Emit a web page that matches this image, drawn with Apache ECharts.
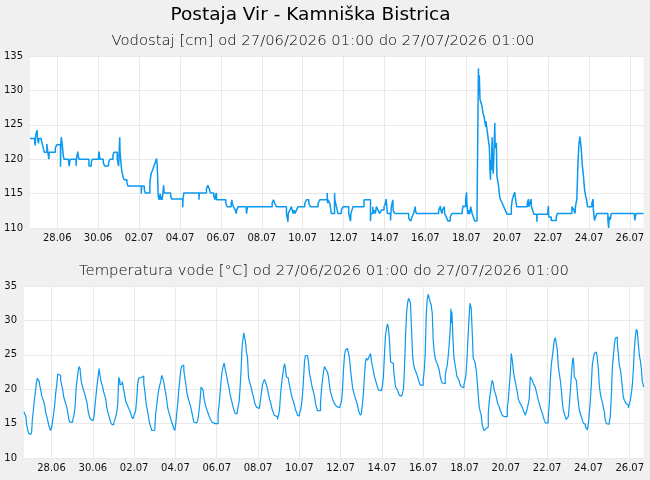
<!DOCTYPE html>
<html>
<head>
<meta charset="utf-8">
<script src="https://cdn.jsdelivr.net/npm/echarts@6/dist/echarts.min.js"></script>
<style>
html,body{margin:0;padding:0;background:#f0f0f0;}
#chart{width:650px;height:480px;}
</style>
</head>
<body>
<div id="chart"></div>
<script>
// x values: hours since 27/06/2026 01:00
const titleText = 'Postaja Vir - Kamniška Bistrica';
const levelTitle = 'Vodostaj [cm] od 27/06/2026 01:00 do 27/07/2026 01:00';
const tempTitle = 'Temperatura vode [°C] od 27/06/2026 01:00 do 27/07/2026 01:00';

const tickHours = [32,80,128,176,224,272,320,368,416,464,512,560,608,656,704];
const tickLabels = ['28.06','30.06','02.07','04.07','06.07','08.07','10.07','12.07','14.07','16.07','18.07','20.07','22.07','24.07','26.07'];

// Vodostaj [cm]
const levelPoints = [
[0,123],[5.5,122.5],[6.2,122],[6.6,123.5],[8.4,124.2],[8.8,123],[10,122.3],[10.4,123],[13.3,122.7],[14.5,122.2],
[15.6,121.6],[16.8,121],[19.8,122.2],[20.3,121.6],[22.1,120],[22.5,121],[29.7,121.6],[31.3,122.1],[35.8,118.9],[36.2,122.1],
[36.7,123.2],[37.9,122.1],[39.1,120.5],[39.9,120],[45.3,119.5],[46.1,119],[46.5,119.5],[47.3,120],[54.1,119],[54.5,120],
[56.1,121.1],[56.5,120.5],[57.5,120],[69.2,119],[71.9,119.5],[73.1,120],[80.5,120.5],[81.1,121.1],[81.5,120.5],[82.1,120],
[86,119.5],[87.6,119],[92.2,119.5],[93.8,120],[97.3,120.5],[98.5,121],[102.4,120],[104,119],[105.3,123.2],[105.7,121],
[107.5,118.5],[109,117.5],[110.6,117],[113.7,116.6],[114.9,116.1],[130.6,115],[131,116.1],[134.1,115.6],[135.3,115.1],[140.7,116.7],
[142.3,118],[143.8,118.4],[145.4,119],[147,119.5],[148.5,120.1],[149.3,119.2],[150.5,114.6],[151.5,114.1],[152.8,115],[153.5,114.1],
[154,114.6],[155,114.1],[155.6,114.6],[156.8,116.2],[157.3,115.1],[165,114.6],[166.5,114.2],[179.2,113],[179.6,114.2],[180.6,115.1],
[198.3,114.1],[198.7,115.1],[207.1,115.7],[208.7,116.2],[210.3,115.7],[211.8,115.1],[215.7,114.6],[217.1,114.1],[217.5,114.6],[218.7,115.1],
[219.1,114.1],[229.8,113.6],[231.4,113.1],[236.1,113.6],[237,114.1],[237.4,113.6],[238.8,113.1],[240.8,112.6],[242.1,112.1],[242.5,112.6],
[244.3,113.1],[253.8,112.6],[254.2,112.1],[254.6,112.6],[255.6,113.1],[284.2,113.6],[285.7,114.1],[287.3,113.6],[289.2,113.1],[301,112.1],
[302.7,110.9],[303.1,112.1],[304.9,112.6],[306.8,113.1],[308.8,112.1],[309.6,112.6],[311.1,112.1],[312.7,112.6],[314.6,113.1],[322.5,113.6],
[324.4,114.1],[327.2,113.6],[329.1,113.1],[338.1,113.6],[340.1,114.1],[348.8,115.1],[349.2,113.6],[349.8,114.1],[351.8,113.6],[353.7,112.1],
[357.4,115.1],[357.8,114.1],[359.6,113.1],[361.5,112.1],[365.4,112.6],[367.4,113.1],[374,112.1],[376.2,111],[376.6,112.1],[377.9,112.6],
[379.1,113.1],[392,114.1],[399.6,111],[400,112.1],[402.4,113.1],[402.8,112.1],[403.7,112.6],[405.3,112.1],[406.5,113.1],[408.4,112.6],
[410.4,112.1],[412.3,112.6],[415.5,113.1],[417,113.6],[418,114.2],[418.4,113.6],[419.4,112.1],[423.1,111.1],[423.5,112.1],[424.1,113.1],
[425.8,114.1],[426.2,112.6],[428,112.1],[444.4,111.4],[446.7,111],[448.3,111.6],[450.2,112.1],[452,113.1],[452.4,112.6],[453.4,112.1],
[479.6,112.6],[481.7,113.2],[482.1,112.6],[483.5,112.1],[484,112.6],[486.2,113.1],[486.6,112.1],[488.6,111.6],[490.5,111],[493.2,111.6],
[495.2,112.1],[507.3,112.6],[508.3,113.2],[508.7,113.1],[511.3,114.1],[512.3,115.2],[512.7,113.6],[514,112],[515.2,112.6],[516,112],
[517.2,113.1],[519.1,112],[520.3,111.6],[521.9,111],[524.6,111.6],[525.4,122.6],[526.3,133.2],[526.7,129.6],[527.3,132.2],[528.1,128.7],
[529.3,128.2],[530.5,127.7],[531.6,126.7],[532.8,126.2],[533.6,125.7],[534.8,124.7],[535.3,125.5],[535.7,124.9],[536.7,124],[537.9,122.8],
[539.1,121.8],[539.8,118.7],[540.4,117],[540.8,119.9],[541.4,118.4],[542.4,123.2],[542.8,119.4],[543.7,117.9],[544.5,120.9],[545.5,125.3],
[545.9,121.6],[547.3,122.4],[548,117.5],[550,116],[551.2,114.6],[552.3,114.1],[554.3,113.6],[555.9,113.1],[557.8,112.6],[559.8,112],
[564.9,113.1],[566,114.1],[567.2,114.6],[568.8,115.2],[570,114.1],[571.1,113.1],[583.6,113.6],[585,114.2],[585.4,113.1],[586.7,113.6],
[588.1,114.2],[588.5,113.1],[589.9,112.6],[591.4,112],[594.8,110.9],[595.2,112],[607.8,112.6],[608.4,113.2],[608.8,111.6],[611.7,111.1],
[617.6,111.6],[618.8,112.1],[636,113.1],[638.3,112.6],[639.7,112.1],[640.1,113.1],[641.8,114.2],[643,119.2],[644.2,122.1],[645.3,123.3],
[646.9,121.6],[648.1,119.2],[649.6,117.5],[650.8,115.6],[652,114.7],[653.2,114.1],[654.3,113.1],[659.4,113.6],[660.8,114.2],[661.2,112.6],
[662.5,111.1],[663.7,111.6],[665.3,112.1],[678.2,111.2],[679.1,110],[679.5,111.2],[680.1,111.6],[681.1,111.2],[681.5,111.6],[682.1,112.1],
[709.4,111.6],[710,111.1],[710.4,111.6],[711.4,112.1],[720,112.1]
];

// Temperatura vode [°C]
const tempPoints = [
[0,16.7],[1.2,16.5],[2.3,16.0],[3.1,14.8],[4.3,14.1],[5.4,13.6],[6.6,13.4],[7.8,13.4],[8.9,13.8],[9.7,15.6],
[10.9,16.9],[12.0,18.4],[13.2,19.6],[14.3,20.8],[15.5,21.6],[16.7,21.8],[17.8,21.1],[18.2,20.6],[19.4,19.9],[20.5,19.1],
[21.7,18.6],[22.9,18.2],[24.0,17.7],[25.2,16.6],[26.4,16.1],[27.5,15.5],[28.7,14.8],[29.9,14.3],[31.0,14.0],[32.2,14.5],
[33.3,15.4],[34.5,16.5],[35.7,17.7],[36.8,19.4],[38.0,20.6],[39.2,22.2],[40.3,22.3],[41.5,22.0],[42.6,21.3],[43.8,20.6],
[45.0,19.9],[46.1,18.9],[47.3,18.4],[48.5,17.9],[49.6,17.4],[50.8,16.7],[52.0,15.7],[53.1,15.2],[54.3,15.0],[55.4,15.2],
[56.6,15.5],[58.1,16.2],[59.3,17.4],[60.5,20.0],[61.6,21.3],[62.8,22.5],[64.0,23.3],[65.1,23.0],[66.3,21.3],[67.5,20.6],
[68.6,20.1],[69.8,19.6],[71.0,19.1],[72.1,18.6],[73.3,18.0],[74.4,16.9],[75.6,16.2],[76.8,15.7],[77.9,15.5],[79.1,15.4],
[80.2,15.5],[81.4,16.0],[82.6,17.7],[83.7,19.1],[84.9,20.6],[86.1,21.8],[87.2,23.0],[88.4,22.8],[89.2,21.3],[90.3,20.8],
[91.5,20.3],[92.6,19.6],[93.8,19.1],[95.0,18.6],[96.1,17.4],[97.3,16.7],[98.5,16.2],[99.6,15.7],[100.8,15.2],[101.9,14.9],
[103.1,14.8],[104.3,15.1],[105.4,15.5],[106.6,16.0],[107.8,16.7],[108.9,17.7],[110.1,21.7],[111.3,21.3],[111.6,20.6],[112.8,20.8],
[114.0,21.1],[114.7,20.8],[115.9,19.9],[117.1,19.1],[118.2,18.2],[119.4,17.9],[120.5,17.7],[121.7,17.2],[122.9,16.9],[124.0,16.7],
[125.2,16.0],[126.4,15.7],[127.5,16.0],[128.7,16.5],[129.8,16.9],[131.0,18.6],[132.2,20.8],[133.3,21.6],[134.9,21.7],[136.4,21.7],
[138.0,21.9],[139.2,20.8],[140.3,19.9],[141.5,18.4],[142.6,17.4],[143.8,16.7],[145.0,15.7],[146.1,15.0],[147.3,14.5],[148.5,14.0],
[149.6,13.8],[150.8,14.0],[151.9,14.1],[153.1,16.5],[154.3,17.7],[155.4,18.9],[156.6,19.9],[157.8,20.6],[158.9,21.1],[160.1,22.0],
[161.2,21.6],[162.4,21.1],[163.6,20.1],[164.7,19.4],[165.9,18.4],[167.1,17.2],[168.2,16.7],[169.4,16.2],[170.5,15.7],[171.7,15.2],
[172.9,14.8],[174.0,14.3],[175.2,14.0],[176.4,15.0],[177.5,16.5],[178.7,17.9],[179.9,19.9],[181.0,21.3],[182.2,22.8],[183.3,23.3],
[184.5,23.5],[185.7,22.8],[186.8,21.8],[188.0,20.8],[189.2,19.6],[190.3,18.9],[191.5,18.4],[192.6,17.9],[193.8,17.4],[195.0,16.7],
[196.1,16.0],[197.3,15.2],[198.5,15.0],[199.6,15.1],[200.8,15.2],[202.0,15.5],[203.1,16.5],[204.3,17.9],[205.8,20.3],[207.0,20.2],
[208.1,19.9],[209.3,18.6],[210.5,17.9],[211.6,17.4],[212.8,16.9],[214.0,16.5],[215.1,16.1],[216.3,15.7],[217.4,15.5],[218.6,15.2],
[219.8,15.1],[220.9,15.0],[222.1,14.9],[223.3,14.8],[224.4,15.0],[225.6,16.5],[226.7,17.7],[227.9,19.4],[229.1,21.3],[230.2,22.5],
[231.4,23.3],[232.6,23.8],[233.7,23.0],[234.9,22.3],[236.0,21.6],[237.2,20.8],[238.4,20.1],[239.5,19.3],[240.7,18.6],[241.9,18.0],
[243.0,17.4],[244.2,16.9],[245.3,16.5],[246.5,16.4],[247.7,16.7],[248.8,16.9],[250.0,18.2],[251.2,20.3],[252.3,22.8],[253.5,26.2],
[254.6,27.4],[255.4,28.2],[256.2,27.6],[257.4,26.9],[258.5,25.4],[259.7,24.7],[260.9,21.8],[262.0,21.1],[263.2,20.6],[264.3,20.1],
[265.5,19.4],[266.7,18.9],[267.8,18.2],[269.0,17.7],[270.2,17.4],[271.3,17.2],[272.5,17.2],[273.6,17.4],[274.8,18.4],[276.0,19.6],
[277.1,20.6],[278.3,21.1],[279.5,21.4],[280.6,21.1],[281.8,20.6],[283.0,20.0],[284.1,19.3],[285.3,18.6],[286.4,18.2],[287.6,17.5],
[288.8,16.9],[289.9,16.6],[291.1,16.2],[292.3,16.0],[293.4,16.0],[294.6,15.6],[295.7,15.6],[296.9,16.9],[298.1,19.1],[299.2,20.6],
[300.4,21.8],[301.6,22.9],[302.7,23.7],[303.9,23.0],[305.0,21.8],[306.2,21.6],[307.4,21.3],[308.5,20.6],[309.7,19.9],[310.9,19.1],
[312.0,18.6],[313.2,18.2],[314.3,17.7],[315.5,17.0],[316.7,16.7],[317.8,16.2],[319.0,16.1],[320.2,16.5],[321.3,16.9],[322.5,17.7],
[323.6,19.1],[324.8,21.3],[326.0,24.0],[327.1,24.9],[328.3,24.9],[329.5,24.7],[330.6,24.0],[331.8,22.3],[333.0,21.6],[334.1,20.8],
[335.3,20.1],[336.4,19.6],[337.6,19.0],[338.8,17.9],[339.9,17.4],[341.1,16.9],[342.3,16.7],[343.4,16.9],[344.6,17.9],[345.7,19.9],
[346.9,21.3],[348.1,22.5],[349.2,23.3],[350.4,23.0],[351.6,22.8],[352.7,22.5],[353.9,21.8],[355.0,20.6],[356.2,19.6],[357.4,19.1],
[358.5,18.6],[359.7,18.2],[360.9,17.9],[362.0,17.7],[363.2,17.5],[364.3,17.4],[365.5,17.3],[366.7,17.2],[367.8,17.5],[369.0,18.2],
[370.2,19.9],[371.3,22.8],[372.5,24.9],[373.6,25.7],[374.8,25.9],[376.0,25.9],[377.1,25.7],[378.3,24.5],[379.5,22.8],[380.6,21.6],
[381.8,20.3],[383.0,19.6],[384.1,19.1],[385.3,18.6],[386.4,18.2],[387.6,17.7],[388.8,16.9],[389.9,16.5],[391.1,16.2],[392.2,16.5],
[393.4,17.9],[394.6,19.6],[395.7,22.0],[396.9,24.0],[398.1,24.5],[399.2,24.2],[400.4,24.5],[401.6,24.6],[402.7,25.2],[403.9,24.0],
[405.0,23.3],[406.2,22.5],[407.4,21.8],[408.5,21.3],[409.7,20.8],[410.9,20.3],[412.0,19.9],[413.2,19.9],[414.3,19.8],[415.5,19.9],
[416.7,20.6],[417.8,22.0],[419.0,25.2],[420.2,27.9],[421.3,28.8],[422.5,29.5],[423.6,28.8],[424.8,27.1],[426.0,24.0],[427.1,23.8],
[428.3,23.7],[429.5,22.8],[430.6,21.6],[431.8,20.3],[433.0,20.1],[434.1,19.9],[435.3,19.4],[436.4,19.1],[437.6,19.0],[438.8,19.1],
[439.9,19.4],[441.1,20.1],[442.3,23.3],[443.4,27.6],[444.6,31.0],[445.8,32.5],[446.9,33.2],[448.1,32.9],[449.2,32.5],[450.4,28.8],
[451.6,24.9],[452.7,23.7],[453.9,23.0],[455.0,22.8],[456.2,22.3],[457.4,21.8],[458.5,21.3],[459.7,20.9],[460.5,20.6],[461.7,20.8],
[462.8,20.6],[464.0,21.3],[465.2,22.8],[466.3,25.2],[467.5,30.8],[468.6,33.0],[469.8,33.8],[471.0,33.2],[472.1,32.7],[473.3,32.2],
[474.5,31.0],[475.6,27.1],[476.8,25.4],[477.9,24.5],[479.1,24.0],[480.3,23.7],[481.4,23.3],[482.6,22.8],[483.8,21.8],[484.9,21.3],
[486.1,20.9],[487.2,20.8],[488.4,20.8],[489.6,22.0],[490.7,22.8],[491.9,23.5],[493.1,24.9],[494.2,26.6],[495.4,28.8],[496.2,31.7],
[496.9,29.6],[497.3,31.3],[498.5,27.6],[499.6,24.7],[500.8,23.7],[502.0,22.8],[503.1,21.9],[504.3,21.6],[505.5,21.3],[506.6,20.8],
[507.8,20.4],[509.0,20.3],[510.1,20.2],[511.3,20.6],[512.4,20.8],[513.6,22.0],[514.8,24.2],[515.9,27.1],[517.1,30.0],[518.3,32.5],
[519.0,32.7],[519.8,31.7],[521.0,28.1],[522.1,24.5],[523.3,24.2],[524.5,23.7],[525.6,22.8],[526.8,21.1],[527.9,19.1],[529.1,17.4],
[530.3,16.7],[531.4,16.2],[532.6,14.8],[533.8,14.3],[534.9,14.0],[536.1,13.9],[537.2,14.3],[538.4,14.5],[539.6,16.5],[540.7,18.2],
[541.9,19.4],[543.1,20.6],[544.2,21.3],[545.4,20.8],[546.5,19.9],[547.7,19.4],[548.9,18.9],[550.0,18.2],[551.2,17.7],[552.4,17.4],
[553.5,16.9],[554.7,16.6],[555.8,16.2],[557.0,16.0],[558.2,15.9],[559.3,15.8],[560.5,16.0],[561.7,17.2],[562.8,18.4],[564.0,20.3],
[565.2,22.3],[566.3,25.2],[567.5,24.2],[568.6,22.8],[569.8,21.8],[571.0,21.1],[572.1,20.3],[573.3,19.6],[574.5,18.6],[575.6,18.2],
[576.8,17.9],[578.0,17.7],[579.1,17.4],[580.3,16.9],[581.4,16.6],[582.6,16.2],[583.8,16.7],[584.9,17.2],[586.1,17.9],[587.2,18.6],
[588.4,21.8],[589.6,22.0],[590.7,21.3],[591.9,20.8],[593.1,20.7],[594.2,20.3],[595.4,20.1],[596.5,19.1],[597.7,18.4],[598.9,17.9],
[600.0,17.4],[601.2,16.9],[602.4,16.5],[603.5,16.0],[604.7,15.5],[605.9,15.1],[607.0,14.9],[608.2,15.1],[609.3,16.0],[610.5,17.9],
[611.7,21.3],[612.8,23.5],[614.0,24.7],[615.2,25.9],[616.3,27.1],[617.5,27.5],[618.6,27.4],[619.8,25.7],[621.0,23.3],[622.1,22.3],
[623.3,21.3],[624.5,19.9],[625.6,18.2],[626.8,16.9],[627.9,16.5],[629.1,16.0],[630.3,15.6],[631.4,15.5],[632.6,16.0],[633.8,17.7],
[634.9,19.6],[636.1,21.8],[637.2,23.7],[638.0,24.6],[638.8,24.0],[639.6,21.8],[640.7,21.6],[641.9,21.3],[643.1,19.6],[644.2,18.2],
[645.4,16.9],[646.5,16.5],[647.7,16.0],[648.9,15.5],[650.0,15.1],[651.2,14.9],[652.4,14.6],[653.5,14.4],[654.7,14.1],[655.9,15.0],
[657.0,16.5],[658.2,18.2],[659.3,20.6],[660.5,23.5],[661.7,24.5],[662.8,25.2],[664.0,25.4],[665.2,25.4],[666.3,24.5],[667.5,23.0],
[668.6,20.6],[669.8,19.4],[671.0,18.6],[672.1,18.2],[673.3,17.4],[674.5,16.7],[675.6,15.5],[676.8,15.0],[678.0,14.8],[679.1,14.9],
[680.3,15.2],[681.4,16.0],[682.6,18.9],[683.8,23.2],[684.9,24.7],[686.1,26.4],[687.2,27.4],[688.4,27.6],[689.6,26.6],[690.7,25.2],
[691.9,23.5],[693.1,22.8],[694.2,21.8],[695.4,20.3],[696.5,18.9],[697.7,18.4],[698.9,18.2],[700.0,17.9],[701.2,17.7],[702.4,17.3],
[703.5,17.4],[704.7,18.4],[705.9,19.4],[707.0,20.6],[708.2,22.8],[709.3,25.7],[710.5,27.6],[711.7,28.7],[712.8,28.4],[714.0,26.6],
[715.2,24.9],[716.3,24.2],[717.5,23.0],[718.6,21.1],[719.8,20.6],[720,20.3]
];

const levelRange = [110, 135];
const tempRange = [10, 35];
const yInterval = 5;

const FONT = 'DejaVu Sans';
const LINE = '#0a98f0';
const GRID = '#e9e9e9';

function xAxisFor(gridIndex) {
  return {
    type: 'value', gridIndex, min: 0, max: 720,
    axisLine: {show: false},
    axisTick: {show: false, customValues: tickHours},
    splitLine: {show: true, lineStyle: {color: GRID, width: 1}},
    axisLabel: {
      customValues: tickHours, fontSize: 10, fontFamily: FONT, color: '#111', margin: 5,
      formatter: v => { const i = tickHours.indexOf(v); return i >= 0 ? tickLabels[i] : ''; }
    }
  };
}
function yAxisFor(gridIndex, range) {
  return {
    type: 'value', gridIndex, min: range[0], max: range[1], interval: yInterval,
    axisLine: {show: false}, axisTick: {show: false},
    splitLine: {show: true, lineStyle: {color: GRID, width: 1}},
    axisLabel: {fontSize: 10, fontFamily: FONT, color: '#111', margin: 7}
  };
}

const chart = echarts.init(document.getElementById('chart'), null, {renderer: 'canvas'});
chart.setOption({
  animation: false,
  backgroundColor: '#f0f0f0',
  title: [
    {text: titleText, left: 305.5, top: 1, textAlign: 'center',
     textStyle: {fontFamily: FONT, fontSize: 18.5, fontWeight: 'normal', color: '#000'}},
    {text: levelTitle, left: 318, top: 29, textAlign: 'center',
     textStyle: {fontFamily: FONT, fontSize: 14.8, fontWeight: 200, color: '#000'}},
    {text: tempTitle, left: 319, top: 259, textAlign: 'center',
     textStyle: {fontFamily: FONT, fontSize: 14.8, fontWeight: 200, color: '#000'}}
  ],
  grid: [
    {left: 30, right: 6.5, top: 56, height: 172, show: true, backgroundColor: '#fff', borderWidth: 0},
    {left: 24, right: 6.5, top: 286, height: 172, show: true, backgroundColor: '#fff', borderWidth: 0}
  ],
  xAxis: [xAxisFor(0), xAxisFor(1)],
  yAxis: [yAxisFor(0, levelRange), yAxisFor(1, tempRange)],
  series: [
    {type: 'line', xAxisIndex: 0, yAxisIndex: 0, data: levelPoints, step: 'end',
     showSymbol: false, symbol: 'none', lineStyle: {color: LINE, width: 1.5}, itemStyle: {color: LINE}},
    {type: 'line', xAxisIndex: 1, yAxisIndex: 1, data: tempPoints, step: 'end',
     showSymbol: false, symbol: 'none', lineStyle: {color: LINE, width: 1.2}, itemStyle: {color: LINE}}
  ]
});
</script>
</body>
</html>
